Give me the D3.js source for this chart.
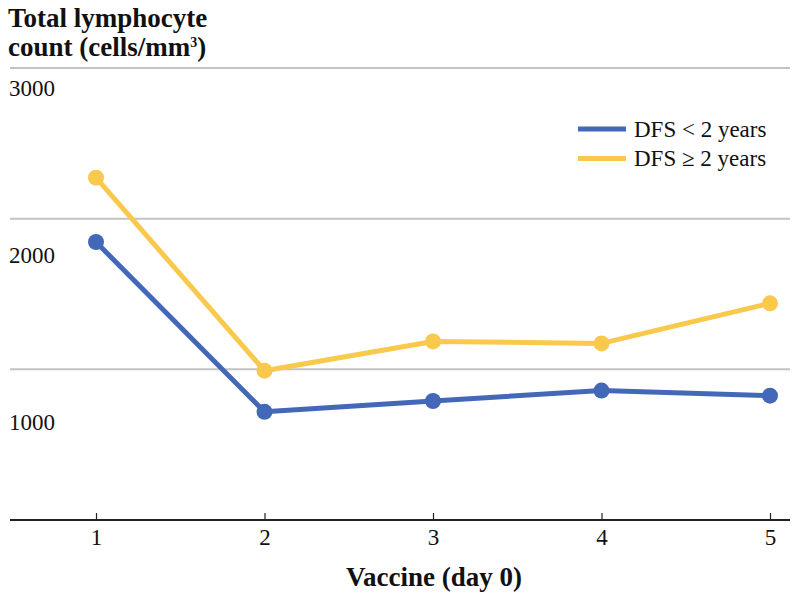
<!DOCTYPE html>
<html>
<head>
<meta charset="utf-8">
<script src="https://cdn.jsdelivr.net/npm/d3@7"></script>
<style>
  html, body { margin: 0; padding: 0; background: #fff; }
  svg { display: block; font-family: "Liberation Serif", "Times New Roman", serif; }
</style>
</head>
<body>
<svg id="chart" width="800" height="602"></svg>
<script>
// ---- data ----
const categories = [1, 2, 3, 4, 5];
const seriesNames = ["DFS < 2 years", "DFS \u2265 2 years"];
const dfsUnder2 = [1845, 718, 790, 859, 825];
const dfsOver2 = [2272, 991, 1185, 1172, 1438];
const gridValues = [0, 1000, 2000, 3000];
const yTickLabels = [1000, 2000, 3000];
const colors = ["#4468B8", "#F9C94E"];

const svg = d3.select("#chart");

// ---- scales ----
const x = d3.scalePoint().domain(categories).range([96, 770]);
const y = d3.scaleLinear().domain([0, 3000]).range([520, 68]);
// the reference's tick labels sit on their own spacing, offset from the grid
const yLabel = d3.scaleLinear().domain([1000, 3000]).range([430, 96]);

// gridlines
svg.append("g").selectAll("line")
  .data(gridValues.filter(v => v > 0))
  .join("line")
  .attr("x1", 10).attr("x2", 790)
  .attr("y1", d => y(d)).attr("y2", d => y(d))
  .attr("stroke", "#c3c3c3").attr("stroke-width", 2);

// y tick labels
svg.append("g").selectAll("text")
  .data(yTickLabels)
  .join("text")
  .attr("x", 9).attr("y", d => yLabel(d))
  .attr("font-size", 23).attr("fill", "#111")
  .text(d => d);

// x axis
const xAxis = d3.axisBottom(x).tickSize(-7).tickPadding(9);
const gx = svg.append("g").attr("transform", "translate(0,520)").call(xAxis);
gx.select(".domain").remove();
gx.selectAll(".tick line").attr("stroke", "#222").attr("stroke-width", 1.2);
gx.selectAll(".tick text").attr("font-size", 23).attr("fill", "#111")
  .attr("font-family", "Liberation Serif, serif");
svg.append("line").attr("x1", 10).attr("x2", 790).attr("y1", 520).attr("y2", 520)
  .attr("stroke", "#222").attr("stroke-width", 2);

// axis titles
svg.append("text").attr("x", 8).attr("y", 27)
  .attr("font-size", 27).attr("font-weight", "bold").attr("fill", "#111")
  .text("Total lymphocyte");
const t2 = svg.append("text").attr("x", 8).attr("y", 56)
  .attr("font-size", 27).attr("font-weight", "bold").attr("fill", "#111");
t2.append("tspan").text("count (cells/mm");
t2.append("tspan").attr("font-size", 14).attr("dy", -9).text("3");
t2.append("tspan").attr("dy", 9).text(")");

svg.append("text").attr("x", 434).attr("y", 586).attr("text-anchor", "middle")
  .attr("font-size", 27).attr("font-weight", "bold").attr("fill", "#111")
  .text("Vaccine (day 0)");

// lines
const seriesData = [dfsUnder2, dfsOver2];
const line = d3.line().x((d, i) => x(categories[i])).y(d => y(d));
seriesData.forEach((vals, s) => {
  svg.append("path").datum(vals)
    .attr("d", line).attr("fill", "none")
    .attr("stroke", colors[s]).attr("stroke-width", 5)
    .attr("stroke-linejoin", "round");
  svg.append("g").selectAll("circle").data(vals).join("circle")
    .attr("cx", (d, i) => x(categories[i])).attr("cy", d => y(d))
    .attr("r", 8).attr("fill", colors[s]);
});

// legend
const legend = svg.append("g");
seriesNames.forEach((name, i) => {
  const ly = 129 + i * 29.5;
  legend.append("line").attr("x1", 578).attr("x2", 626)
    .attr("y1", ly).attr("y2", ly)
    .attr("stroke", colors[i]).attr("stroke-width", 5);
  legend.append("text").attr("x", 634).attr("y", ly + 7.5)
    .attr("font-size", 23).attr("fill", "#111").text(name);
});
</script>
</body>
</html>
